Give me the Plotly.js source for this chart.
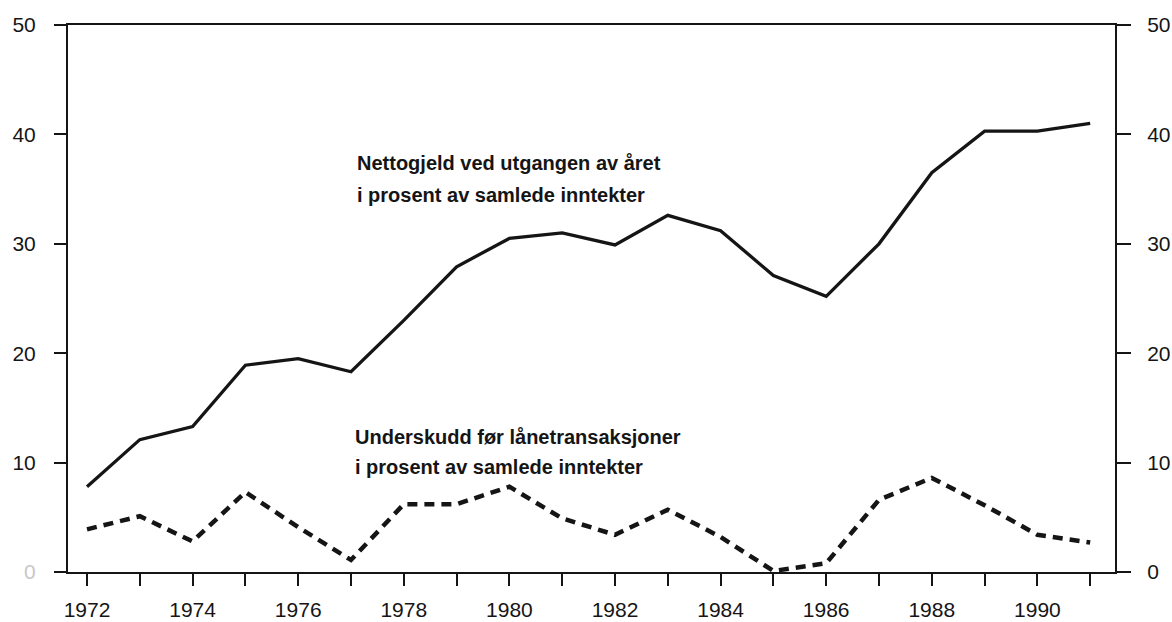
<!DOCTYPE html>
<html>
<head>
<meta charset="utf-8">
<script src="https://cdn.plot.ly/plotly-3.0.1.min.js"></script>
<style>
  html, body { margin: 0; padding: 0; background: #fff; }
  #chart { width: 1172px; height: 622px; }
</style>
</head>
<body>
<div id="chart"></div>
<script>
// ---- data ----
const years = [1972,1973,1974,1975,1976,1977,1978,1979,1980,1981,1982,1983,1984,1985,1986,1987,1988,1989,1990,1991];
const nettogjeld = [7.8,12.1,13.3,18.9,19.5,18.3,23.0,27.9,30.5,31.0,29.9,32.6,31.2,27.1,25.2,30.0,36.5,40.3,40.3,41.0];
const underskudd = [3.9,5.1,2.8,7.3,4.1,1.1,6.2,6.2,7.8,4.9,3.4,5.7,3.2,0.1,0.8,6.6,8.6,6.1,3.4,2.7];
const xTickVals = years;
const xTickText = ['1972','','1974','','1976','','1978','','1980','','1982','','1984','','1986','','1988','','1990',''];
const yTickVals = [0,10,20,30,40,50];
const yTickTextLeft = ['<span style="color:#c8c8c8">0</span>','10','20','30','40','50'];
const yTickTextRight = ['0','10','20','30','40','50'];
const label1 = ['Nettogjeld ved utgangen av året', 'i prosent av samlede inntekter'];
const label2 = ['Underskudd før lånetransaksjoner', 'i prosent av samlede inntekter'];

const ink = '#151515';
const fontFam = '"Liberation Sans", Arial, Helvetica, sans-serif';

const traces = [
  { x: years, y: nettogjeld, type: 'scatter', mode: 'lines',
    line: { color: ink, width: 3.3 }, hoverinfo: 'skip', showlegend: false },
  { x: years, y: underskudd, type: 'scatter', mode: 'lines',
    line: { color: ink, width: 4.5, dash: '10px,7px' }, hoverinfo: 'skip', showlegend: false },
  // invisible trace to activate right axis
  { x: [years[0]], y: [0], yaxis: 'y2', type: 'scatter', mode: 'markers',
    marker: { opacity: 0 }, hoverinfo: 'skip', showlegend: false }
];

const annFont = { family: fontFam, size: 20, color: ink, weight: 'bold' };
const tickFont = { family: fontFam, size: 21, color: ink };
const layout = {
  width: 1172, height: 622,
  margin: { l: 68, r: 57, t: 25, b: 50 },
  paper_bgcolor: '#fff', plot_bgcolor: '#fff',
  font: { family: fontFam, color: ink },
  xaxis: {
    range: [1971.64, 1991.47], showgrid: false, zeroline: false,
    showline: true, mirror: true, linecolor: ink, linewidth: 2,
    tickmode: 'array', tickvals: xTickVals, ticktext: xTickText,
    ticks: 'outside', ticklen: 12, tickwidth: 2, tickcolor: ink,
    tickfont: tickFont,
    ticklabelstandoff: 6
  },
  yaxis: {
    range: [0, 50], showgrid: false, zeroline: false,
    showline: true, linecolor: ink, linewidth: 2,
    tickmode: 'array', tickvals: yTickVals, ticktext: yTickTextLeft,
    ticks: 'outside', ticklen: 12, tickwidth: 2, tickcolor: ink,
    tickfont: tickFont,
    ticklabelstandoff: 14
  },
  yaxis2: {
    range: [0, 50], overlaying: 'y', side: 'right', showgrid: false, zeroline: false,
    showline: true, linecolor: ink, linewidth: 2,
    tickmode: 'array', tickvals: yTickVals, ticktext: yTickTextRight,
    ticks: 'outside', ticklen: 14, tickwidth: 2, tickcolor: ink,
    tickfont: tickFont,
    ticklabelstandoff: 12
  },
  annotations: [
    { xref: 'paper', yref: 'paper', x: 0.274, y: 0.748, xanchor: 'left', yanchor: 'middle',
      text: label1[0], showarrow: false, font: annFont },
    { xref: 'paper', yref: 'paper', x: 0.274, y: 0.689, xanchor: 'left', yanchor: 'middle',
      text: label1[1], showarrow: false, font: annFont },
    { xref: 'paper', yref: 'paper', x: 0.272, y: 0.247, xanchor: 'left', yanchor: 'middle',
      text: label2[0], showarrow: false, font: annFont },
    { xref: 'paper', yref: 'paper', x: 0.272, y: 0.192, xanchor: 'left', yanchor: 'middle',
      text: label2[1], showarrow: false, font: annFont }
  ]
};

Plotly.newPlot('chart', traces, layout, { staticPlot: true, displayModeBar: false });
</script>
</body>
</html>
